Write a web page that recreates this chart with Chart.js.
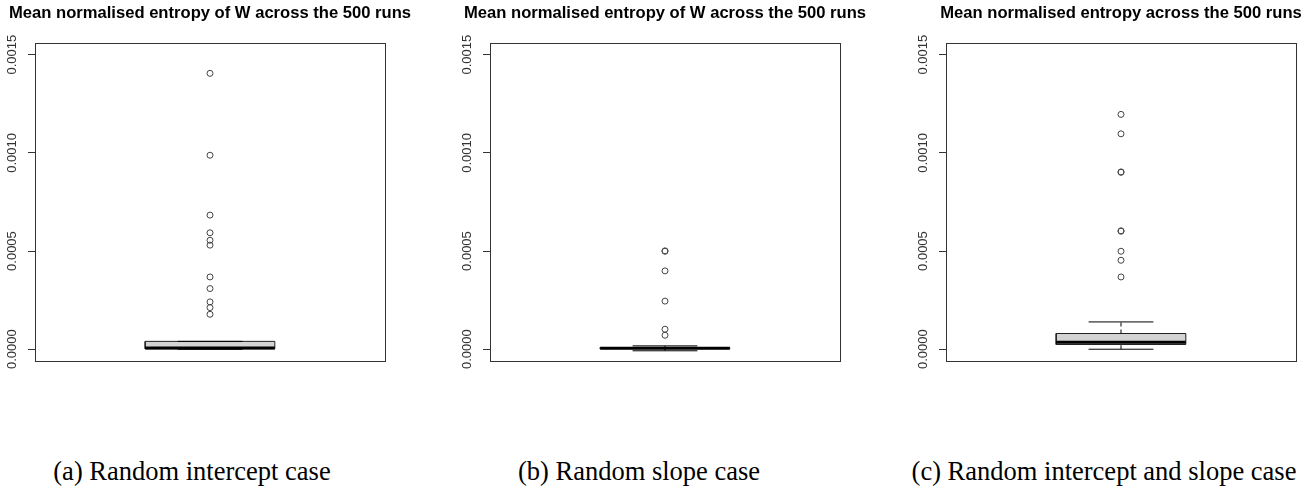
<!DOCTYPE html>
<html>
<head>
<meta charset="utf-8">
<script src="https://cdn.jsdelivr.net/npm/chart.js@4.4.0/dist/chart.umd.min.js"></script>
<style>
  body { margin: 0; background: #fff; width: 1314px; height: 491px; overflow: hidden; position: relative; }
  canvas { position: absolute; top: 0; }
  .caption { position: absolute; top: 455px; width: 440px; text-align: center; line-height: 32px;
             font-family: "Liberation Serif", "Times New Roman", serif; font-size: 26.5px; color: #000; }
</style>
</head>
<body>
<canvas id="chartA" width="420" height="385" style="left:0px"></canvas>
<canvas id="chartB" width="420" height="385" style="left:455px"></canvas>
<canvas id="chartC" width="420" height="385" style="left:911px"></canvas>
<div class="caption" style="left:-28px">(a) Random intercept case</div>
<div class="caption" style="left:419px">(b) Random slope case</div>
<div class="caption" style="left:884px">(c) Random intercept and slope case</div>

<script>
"use strict";

// titlar och y-axelns steg
const titles = [
    "Mean normalised entropy of W across the 500 runs",
    "Mean normalised entropy of W across the 500 runs",
    "Mean normalised entropy across the 500 runs"
];
const yTicks = [0, 0.0005, 0.0010, 0.0015];
const yTickLabels = ["0.0000", "0.0005", "0.0010", "0.0015"];

// lådagrammens sammanfattning (a, b, c)
const lowerWhisker = [0, -0.000008, 0];
const q1 = [0.000002, 0.000003, 0.000024];
const median = [0.000006, 0.000005, 0.000036];
const q3 = [0.000040, 0.000008, 0.000080];
const upperWhisker = [0.000040, 0.000017, 0.000139];

// avvikande värden
const outliersA = [0.001405, 0.000988, 0.000683, 0.000593, 0.000555, 0.000530,
                   0.000368, 0.000309, 0.000241, 0.000212, 0.000178];
const outliersB = [0.000501, 0.000499, 0.000399, 0.000245, 0.000102, 0.0000713];
const outliersC = [0.001196, 0.001097, 0.000903, 0.000901, 0.000603, 0.000601,
                   0.000499, 0.000453, 0.000368];

const boxHalf = 0.2;
const stapleHalf = 0.1;

// ram och roterade etiketter som i R
const rFrame = {
    id: "rFrame",
    afterDraw(chart) {
        const ctx = chart.ctx;
        const a = chart.chartArea;
        const y = chart.scales.y;
        ctx.save();
        ctx.strokeStyle = "#333";
        ctx.lineWidth = 1;
        ctx.strokeRect(Math.round(a.left) + 0.5, Math.round(a.top) + 0.5,
                       Math.round(a.right - a.left), Math.round(a.bottom - a.top));
        ctx.fillStyle = "#333";
        ctx.font = "13px 'Liberation Sans', Arial, sans-serif";
        ctx.textAlign = "center";
        ctx.textBaseline = "middle";
        yTicks.forEach((v, i) => {
            ctx.save();
            ctx.translate(a.left - 23, y.getPixelForValue(v));
            ctx.rotate(-Math.PI / 2);
            ctx.fillText(yTickLabels[i], 0, 0);
            ctx.restore();
        });
        ctx.restore();
    }
};

function seg(x1, y1, x2, y2) {
    return [{x: x1, y: y1}, {x: x2, y: y2}];
}

function createBoxplot(el, i, outliers) {
    new Chart(document.getElementById(el), {
        type: "scatter",
        data: {
            datasets: [
                {
                    data: outliers.map(v => ({x: 1, y: v})),
                    pointRadius: 3,
                    pointBorderWidth: 1,
                    pointBorderColor: "#444",
                    pointBackgroundColor: "rgba(0,0,0,0)",
                    order: 0
                },
                {
                    data: seg(1 - boxHalf, median[i], 1 + boxHalf, median[i]),
                    showLine: true, borderColor: "#000", borderWidth: 3, pointRadius: 0, order: 1
                },
                {
                    data: seg(1 - stapleHalf, upperWhisker[i], 1 + stapleHalf, upperWhisker[i]),
                    showLine: true, borderColor: "#000", borderWidth: 1, pointRadius: 0, order: 2
                },
                {
                    data: seg(1 - stapleHalf, lowerWhisker[i], 1 + stapleHalf, lowerWhisker[i]),
                    showLine: true, borderColor: "#000", borderWidth: 1, pointRadius: 0, order: 2
                },
                {
                    data: seg(1, q3[i], 1, upperWhisker[i]),
                    showLine: true, borderColor: "#000", borderWidth: 1, borderDash: [4, 3],
                    pointRadius: 0, order: 3
                },
                {
                    data: seg(1, lowerWhisker[i], 1, q1[i]),
                    showLine: true, borderColor: "#000", borderWidth: 1, borderDash: [4, 3],
                    pointRadius: 0, order: 3
                },
                {
                    data: [
                        {x: 1 - boxHalf, y: q1[i]}, {x: 1 + boxHalf, y: q1[i]},
                        {x: 1 + boxHalf, y: q3[i]}, {x: 1 - boxHalf, y: q3[i]},
                        {x: 1 - boxHalf, y: q1[i]}
                    ],
                    showLine: true, fill: "shape", backgroundColor: "#d3d3d3",
                    borderColor: "#222", borderWidth: 1, pointRadius: 0, tension: 0, order: 4
                }
            ]
        },
        options: {
            responsive: false,
            animation: false,
            events: [],
            layout: { padding: { left: 0, right: 0, top: 0, bottom: 24 } },
            plugins: {
                legend: { display: false },
                tooltip: { enabled: false },
                title: {
                    display: true,
                    text: titles[i],
                    color: "#000",
                    font: { family: "'Liberation Sans', Arial, sans-serif", size: 16.6, weight: "bold", lineHeight: 1.2 },
                    padding: { top: 3, bottom: 20 }
                }
            },
            scales: {
                x: { type: "linear", min: 0.46, max: 1.54, display: false },
                y: {
                    type: "linear",
                    min: -0.00006,
                    max: 0.00156,
                    afterBuildTicks: s => { s.ticks = yTicks.map(v => ({value: v})); },
                    afterFit: s => { s.width = 35; },
                    ticks: { display: false },
                    grid: { drawOnChartArea: false, drawTicks: true, tickLength: 7, color: "#333" },
                    border: { display: false }
                },
                // tom axel till höger så att titeln hamnar mitt över rutan
                yRight: {
                    type: "linear",
                    position: "right",
                    afterFit: s => { s.width = 35; },
                    ticks: { display: false },
                    grid: { display: false },
                    border: { display: false }
                }
            }
        },
        plugins: [rFrame]
    });
}

createBoxplot("chartA", 0, outliersA);
createBoxplot("chartB", 1, outliersB);
createBoxplot("chartC", 2, outliersC);
</script>
</body>
</html>
